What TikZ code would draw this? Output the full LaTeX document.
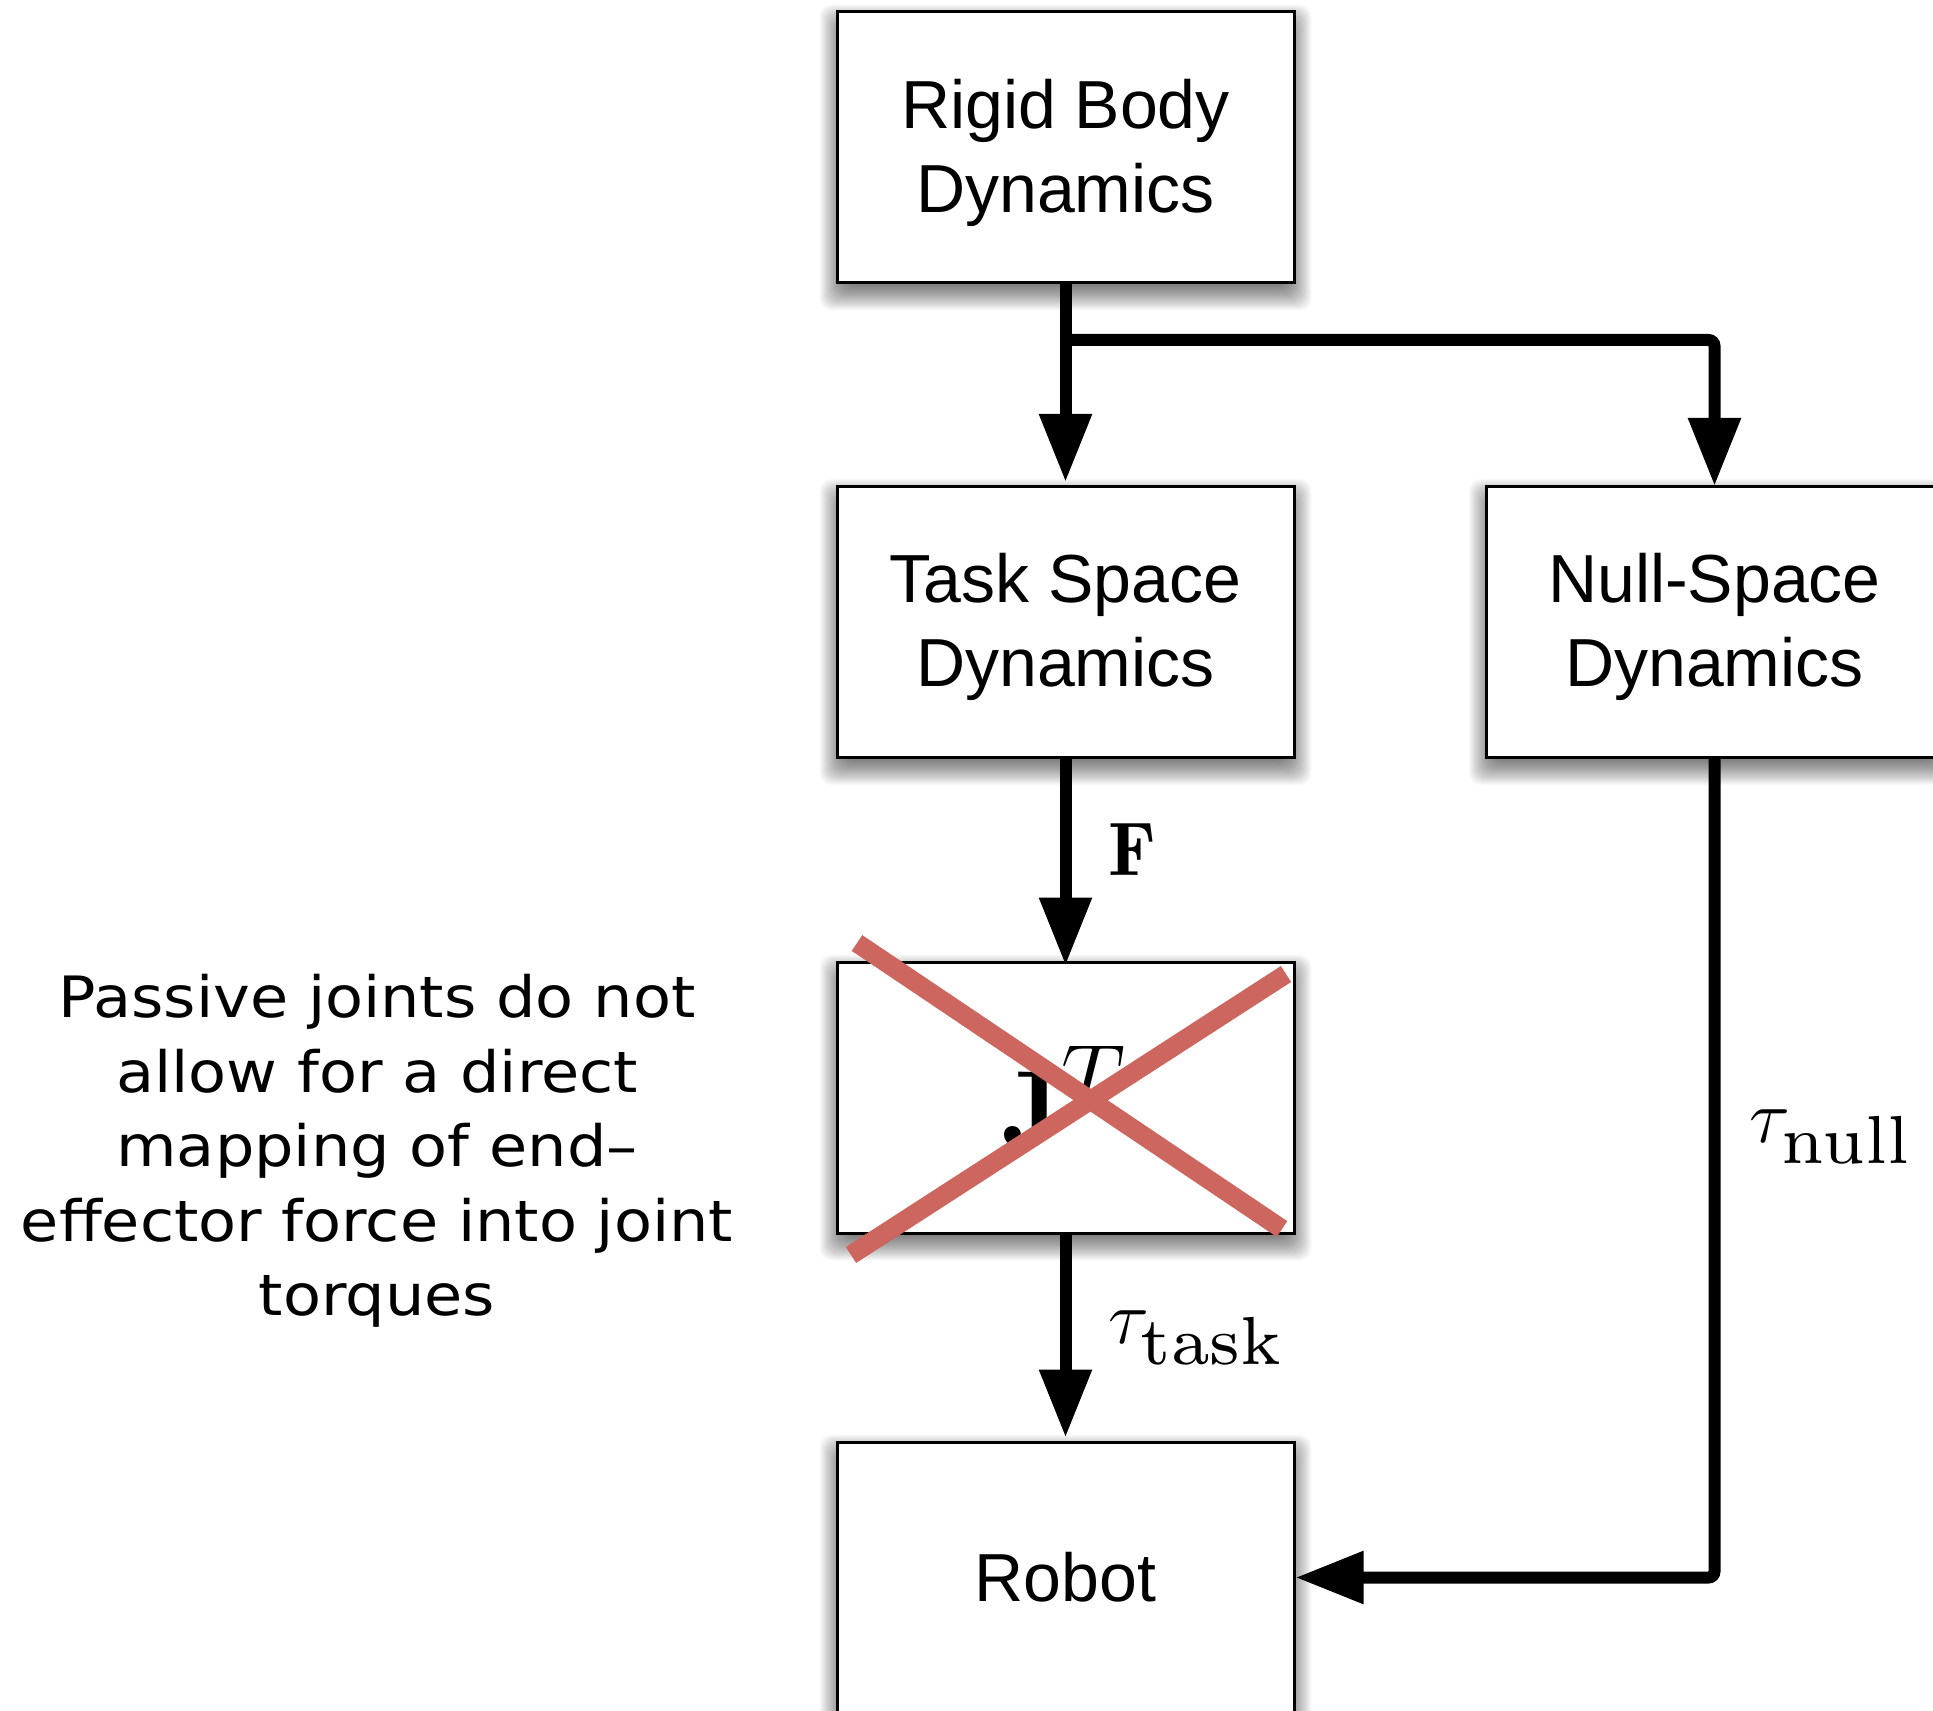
\RequirePackage{fix-cm}
\documentclass[tikz,border=0pt]{standalone}
\usepackage{amsmath}
\usepackage{fontspec}
\newfontfamily\boxfont{Liberation Sans}
\newfontfamily\notefont{DejaVu Sans}[FakeStretch=1.09]
\newfontfamily\subrm{lmroman7-regular.otf}
\DeclareMathSizes{38}{38}{34}{28}
\DeclareMathSizes{55}{55}{45}{35}
\usetikzlibrary{arrows.meta,calc}
\definecolor{crossred}{RGB}{205,102,94}
\pgfdeclarelayer{paper}
\pgfdeclarelayer{shadow}
\pgfsetlayers{paper,shadow,main}

% soft drop shadow under a named box
\newcommand\softshadow[1]{%
  \begin{pgfonlayer}{shadow}
    \foreach \s in {-8,...,16}{
      \fill[black, opacity=0.025, rounded corners=6pt]
        ($(#1.south west)+(-\s,\s+10)$) rectangle ($(#1.north east)+(\s,-\s+10)$);
    }
  \end{pgfonlayer}}
% strut that lowers a two-line box label a little
\newcommand\toprow{\rule{0pt}{29.8pt}}

\tikzset{
  block/.style={draw, line width=1.5pt, fill=white, minimum width=228.5pt,
    minimum height=135.5pt, inner sep=0pt, align=center,
    font=\boxfont\fontsize{34}{42}\selectfont},
  conn/.style={line width=6pt, -{Triangle[length=34pt,width=25pt]}},
  lbl/.style={inner sep=0pt, anchor=base west, font=\fontsize{38}{44}\selectfont},
  note/.style={inner sep=0pt, align=center, font=\notefont\fontsize{28.5}{37.25}\selectfont},
  strike/.style={crossred, line width=9.5pt, line cap=butt},
}

\begin{document}
\begin{tikzpicture}[x=0.5pt, y=-0.5pt]
  \begin{pgfonlayer}{paper}
    \fill[white] (0,0) rectangle (1933,1711);
  \end{pgfonlayer}
  \useasboundingbox (0,0) rectangle (1933,1711);

  % boxes
  \node[block] (rbd) at (1065.5,147.5) {\toprow Rigid Body\\Dynamics};
  \node[block] (tsd) at (1065.5,622) {\toprow Task Space\\Dynamics};
  \node[block] (nsd) at (1714.5,622) {\toprow Null-Space\\Dynamics};
  \node[block, font=\fontsize{55}{60}\selectfont] (jt) at (1065.5,1097.5) {$\mathbf{J}^T$};
  \node[block] (robot) at (1065.5,1577.5) {Robot};

  \softshadow{rbd}
  \softshadow{tsd}
  \softshadow{nsd}
  \softshadow{jt}
  \softshadow{robot}

  % connectors
  \coordinate (split) at (1065.5,340);
  \draw[conn, shorten >=1.5pt] (rbd.south) -- (tsd.north);
  \draw[conn, rounded corners=3pt, shorten >=-0.5pt] (split) -| (nsd.north);
  \draw[conn, shorten >=-2.5pt] (tsd.south) -- (jt.north);
  \draw[conn, shorten >=1.5pt] (jt.south) -- (robot.north);
  \draw[conn, rounded corners=3pt, shorten >=0pt] (nsd.south) |- (robot.east);

  % signal labels
  \node[lbl] (flabel) at (1108,875) {$\mathbf{F}$};
  \node[lbl] (tasklabel) at (1108,1343) {$\tau_{\text{\subrm task}}$};
  \node[lbl] (nulllabel) at (1749,1142) {$\tau_{\text{\subrm null}}$};

  % the transpose mapping is struck out
  \draw[strike] (857,943) -- (1282,1229);
  \draw[strike] (851,1255) -- (1286,974);

  % side remark
  \node[note] (remark) at (377,1151)
    {Passive joints do not\\allow for a direct\\mapping of end–\\effector force into joint\\torques};
\end{tikzpicture}
\end{document}
